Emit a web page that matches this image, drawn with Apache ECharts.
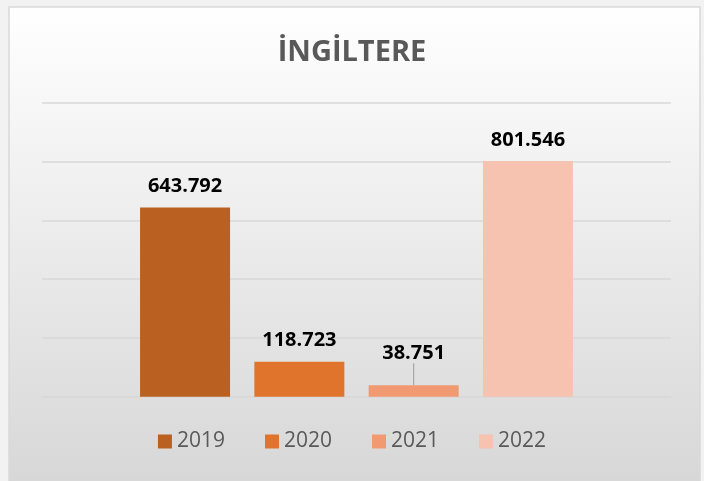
<!DOCTYPE html>
<html>
<head>
<meta charset="utf-8">
<script src="https://cdn.jsdelivr.net/npm/echarts@6/dist/echarts.min.js"></script>
<style>
  html, body { margin: 0; padding: 0; background: #f2f2f2; }
  #chart { width: 704px; height: 481px; }
</style>
</head>
<body>
<div id="chart"></div>
<script>
  // veriler
  const years = ['2019', '2020', '2021', '2022'];
  const values = [643792, 118723, 38751, 801546];
  const colors = ['#BA6021', '#E0742C', '#F19A72', '#F5C3B0'];
  const category = ['İNGİLTERE'];

  // 643792 -> "643.792"
  function fmt(v) {
    return String(v).replace(/\B(?=(\d{3})+(?!\d))/g, '.');
  }

  const chart = echarts.init(document.getElementById('chart'));

  const series = years.map(function (y, i) {
    const s = {
      name: y,
      type: 'bar',
      data: [values[i]],
      barWidth: 90,
      barGap: '27%',
      itemStyle: { color: colors[i] },
      label: {
        show: true,
        position: 'top',
        distance: 11,
        color: '#000',
        fontSize: 20,
        fontWeight: 'bold',
        fontFamily: 'Open Sans',
        formatter: function (p) { return fmt(p.value); }
      }
    };
    // 2021 etiketi yukari tasinmis, kucuk bir cizgi ile
    if (y === '2021') {
      s.label.distance = 14;
      s.labelLayout = { dy: -8 };
      s.labelLine = { show: true, lineStyle: { color: '#a6a6a6', width: 1.2 } };
    }
    return s;
  });

  chart.setOption({
    backgroundColor: '#f2f2f2',
    animation: false,
    graphic: [{
      type: 'rect',
      z: -10,
      shape: { x: 9, y: 7, width: 691, height: 490 },
      style: {
        fill: new echarts.graphic.LinearGradient(0, 0, 0, 1, [
          { offset: 0, color: '#ffffff' },
          { offset: 1, color: '#d6d6d6' }
        ]),
        stroke: '#d9d9d9',
        lineWidth: 1.5
      }
    }],
    title: {
      text: 'İNGİLTERE',
      left: 'center',
      top: 33,
      textStyle: {
        color: '#595959',
        fontSize: 29,
        fontWeight: 'bold',
        fontFamily: 'Open Sans'
      }
    },
    legend: {
      data: years,
      bottom: 24,
      left: 'center',
      itemWidth: 14,
      itemHeight: 14,
      itemGap: 40,
      icon: 'rect',
      textStyle: {
        color: '#595959',
        fontSize: 21,
        fontFamily: 'Open Sans'
      }
    },
    grid: {
      left: 42,
      right: 33,
      top: 102.7,
      bottom: 84.3
    },
    xAxis: {
      type: 'category',
      data: category,
      axisLine: { show: true, lineStyle: { color: '#d9d9d9', width: 1.5 } },
      axisTick: { show: false },
      axisLabel: { show: false }
    },
    yAxis: {
      type: 'value',
      min: 0,
      max: 1000000,
      interval: 200000,
      axisLine: { show: false },
      axisTick: { show: false },
      axisLabel: { show: false },
      splitLine: { lineStyle: { color: '#d9d9d9', width: 1.5 } }
    },
    series: series
  });
</script>
</body>
</html>
